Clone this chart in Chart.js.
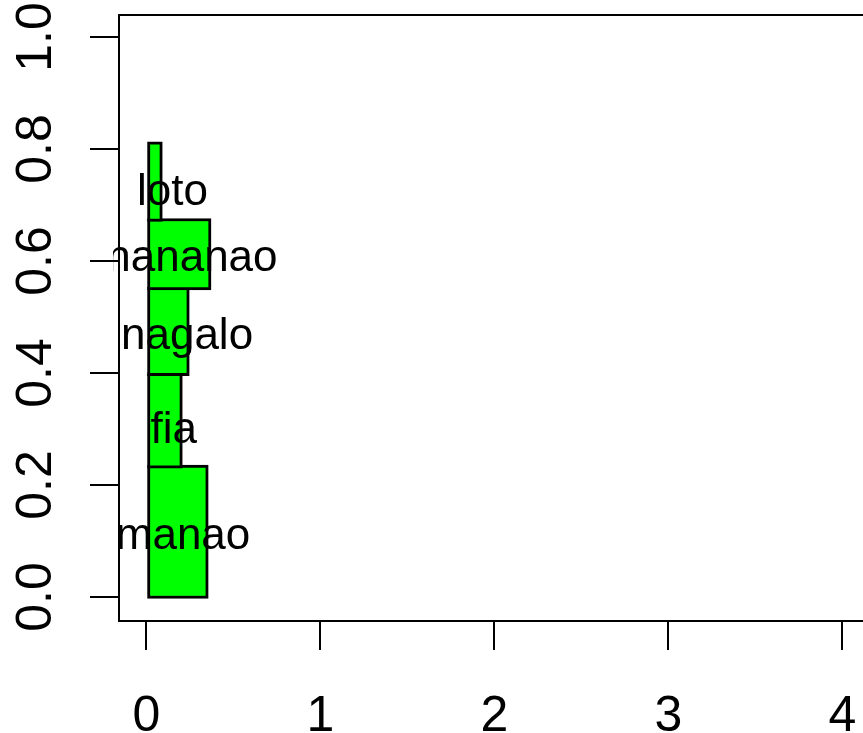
<!DOCTYPE html>
<html>
<head>
<meta charset="utf-8">
<script src="https://cdn.jsdelivr.net/npm/chart.js@4/dist/chart.umd.min.js"></script>
<style>
  html, body { margin: 0; padding: 0; background: #ffffff; overflow: hidden; }
  #chart { display: block; }
</style>
</head>
<body>
<canvas id="chart" width="863" height="733"></canvas>
<script>
/* ======================================================
   Datos
====================================================== */
const categories = ['manao', 'fia', 'nagalo', 'nananao', 'loto'];
const barHeights = [0.2327, 0.1653, 0.1529, 0.1223, 0.1370];
const barWidths  = [0.355, 0.206, 0.246, 0.371, 0.091];

// posición de las etiquetas de texto (unidades de datos)
const labelX = [0.210, 0.157, 0.233, 0.261, 0.149];
const labelY = [0.106, 0.295, 0.464, 0.602, 0.721];

const xTicks = [0, 1, 2, 3, 4];
const xTickLabels = ['0', '1', '2', '3', '4'];
const yTicks = [0, 0.2, 0.4, 0.6, 0.8, 1.0];
const yTickLabels = ['0.0', '0.2', '0.4', '0.6', '0.8', '1.0'];

/* ======================================================
   Utilidades
====================================================== */
const FONT = "'Liberation Sans', Arial, Helvetica, sans-serif";
const BAR_BORDER = 3;

// inicio acumulado de cada barra (barplot con space = 0)
const barStart = [];
barHeights.reduce((acc, h) => { barStart.push(acc); return acc + h; }, 0);

/* ======================================================
   Plugins
====================================================== */

// grosor de cada barra según la escala y
const barSizePlugin = {
  id: 'barSize',
  beforeDatasetsUpdate(chart) {
    const y = chart.scales.y;
    chart.data.datasets.forEach((ds, i) => {
      const top = y.getPixelForValue(barStart[i] + barHeights[i]);
      const bottom = y.getPixelForValue(barStart[i]);
      ds.barThickness = Math.abs(bottom - top) + BAR_BORDER;
    });
  }
};

// caja del gráfico (sin lado derecho, queda fuera de la ventana)
const boxPlugin = {
  id: 'box',
  afterDraw(chart) {
    const { ctx, chartArea: a } = chart;
    ctx.save();
    ctx.strokeStyle = '#000000';
    ctx.lineWidth = 2;
    ctx.beginPath();
    ctx.moveTo(a.right + 10, a.top);
    ctx.lineTo(a.left, a.top);
    ctx.lineTo(a.left, a.bottom);
    ctx.lineTo(a.right + 10, a.bottom);
    ctx.stroke();
    ctx.restore();
  }
};

// etiquetas de categoría sobre las barras
const barLabelPlugin = {
  id: 'barLabels',
  afterDatasetsDraw(chart) {
    const { ctx, chartArea: a, scales: { x, y } } = chart;
    const size = 44;
    ctx.save();
    ctx.beginPath();
    ctx.rect(a.left - 6, a.top, a.right - a.left + 6, a.bottom - a.top);
    ctx.clip();
    ctx.font = `${size}px ${FONT}`;
    ctx.fillStyle = '#000000';
    ctx.textAlign = 'center';
    ctx.textBaseline = 'alphabetic';
    categories.forEach((name, i) => {
      const px = x.getPixelForValue(labelX[i]);
      const py = y.getPixelForValue(labelY[i]) + size * 0.26;
      ctx.fillText(name, px, py);
    });
    ctx.restore();
  }
};

// textos de los ejes (eje y girado como en R)
const axisTextPlugin = {
  id: 'axisText',
  afterDraw(chart) {
    const { ctx, scales: { x, y } } = chart;
    ctx.save();
    ctx.font = `50px ${FONT}`;
    ctx.fillStyle = '#000000';
    ctx.textAlign = 'center';
    ctx.textBaseline = 'alphabetic';

    x.ticks.forEach((t, i) => {
      ctx.fillText(xTickLabels[i], x.getPixelForValue(t.value), 731);
    });

    y.ticks.forEach((t, i) => {
      ctx.save();
      ctx.translate(51, y.getPixelForValue(t.value));
      ctx.rotate(-Math.PI / 2);
      ctx.fillText(yTickLabels[i], 0, 0);
      ctx.restore();
    });
    ctx.restore();
  }
};

/* ======================================================
   Gráfica
====================================================== */
const AXIS_GRID = {
  display: true,
  offset: false,
  drawOnChartArea: false,
  drawTicks: true,
  tickLength: 29,
  color: '#000000',
  lineWidth: 2
};

new Chart(document.getElementById('chart'), {
  type: 'bar',
  data: {
    datasets: categories.map((name, i) => ({
      label: name,
      data: [{ x: barWidths[i], y: barStart[i] + barHeights[i] / 2 }],
      stack: 'bars',
      order: categories.length - i,
      backgroundColor: '#00ff00',
      borderColor: '#000000',
      borderWidth: BAR_BORDER,
      borderSkipped: false
    }))
  },
  options: {
    indexAxis: 'y',
    responsive: false,
    animation: false,
    events: [],
    layout: { padding: { top: 15, right: 0, bottom: 0, left: 0 } },
    plugins: {
      legend: { display: false },
      tooltip: { enabled: false }
    },
    scales: {
      x: {
        type: 'linear',
        position: 'bottom',
        stacked: false,
        offset: false,
        min: -0.158,
        max: 4.118,
        afterBuildTicks(scale) { scale.ticks = xTicks.map(v => ({ value: v })); },
        afterFit(scale) { scale.height = 112; },
        ticks: { display: false },
        grid: AXIS_GRID,
        border: { display: false }
      },
      y: {
        type: 'linear',
        position: 'left',
        stacked: true,
        offset: false,
        min: -0.0429,
        max: 1.0393,
        afterBuildTicks(scale) { scale.ticks = yTicks.map(v => ({ value: v })); },
        afterFit(scale) { scale.width = 119; },
        ticks: { display: false },
        grid: AXIS_GRID,
        border: { display: false }
      }
    }
  },
  plugins: [barSizePlugin, barLabelPlugin, boxPlugin, axisTextPlugin]
});
</script>
</body>
</html>
